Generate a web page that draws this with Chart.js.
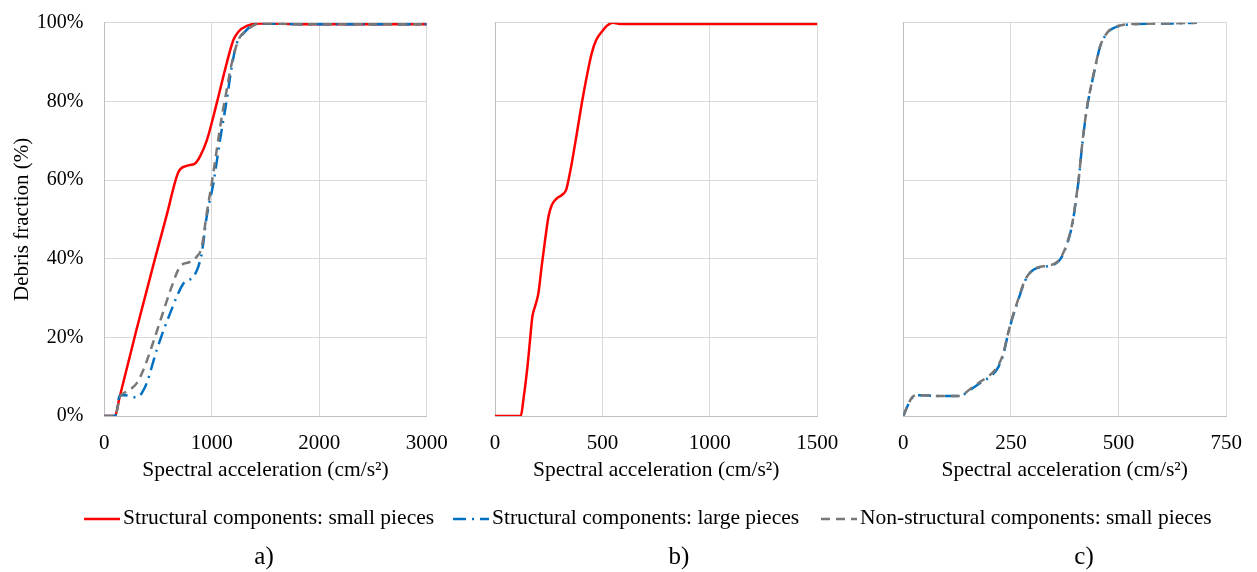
<!DOCTYPE html>
<html>
<head>
<meta charset="utf-8">
<script src="https://cdn.jsdelivr.net/npm/chart.js@4/dist/chart.umd.min.js"></script>
<style>
  body { margin: 0; background: #fff; }
  #wrap { position: relative; width: 1257px; height: 572px; font-family: "Liberation Serif", "Times New Roman", serif; color: #000; }
  #wrap canvas { position: absolute; left: 0; top: 0; }
  .lbl { position: absolute; top: 542px; font-size: 25px; transform: translateX(-50%); }
  #legend { position: absolute; top: 504px; left: 0; width: 1257px; height: 26px; font-size: 21.5px; }
  .item { position: absolute; top: 0; white-space: nowrap; line-height: 26px; }
  .item svg { vertical-align: middle; margin-right: 3px; }
</style>
</head>
<body>
<div id="wrap">
  <canvas id="chartA" width="1257" height="572"></canvas>
  <canvas id="chartB" width="1257" height="572"></canvas>
  <canvas id="chartC" width="1257" height="572"></canvas>
  <div id="legend"></div>
  <div class="lbl" style="left:264px">a)</div>
  <div class="lbl" style="left:679px">b)</div>
  <div class="lbl" style="left:1084px">c)</div>
</div>
<script>
// series labels
const seriesNames = [
  "Structural components: small pieces",
  "Structural components: large pieces",
  "Non-structural components: small pieces"
];

// y ticks (%)
const yTicks = [0, 20, 40, 60, 80, 100];

// x ticks per panel (cm/s2)
const xTicksA = [0, 1000, 2000, 3000];
const xTicksB = [0, 500, 1000, 1500];
const xTicksC = [0, 250, 500, 750];

// panel a
const aRedX = [0, 100, 140, 300, 472, 580, 689, 767, 844, 891, 953, 1046, 1139, 1201, 1248, 1326, 1450, 2000, 3000];
const aRedY = [0, 0, 4.5, 22, 40, 51, 62, 63.6, 64.2, 66, 70, 79.5, 89.7, 95.6, 97.7, 99.2, 99.8, 99.6, 99.6];

const aBlueX = [0, 100, 146, 193, 250, 301, 348, 394, 488, 612, 736, 829, 875, 907, 953, 1015, 1077, 1139, 1186, 1232, 1295, 1419, 2000, 3000];
const aBlueY = [0, 0, 5.3, 5.3, 5.0, 4.7, 5.8, 8.3, 16.8, 26.1, 33.7, 35.4, 38, 41.4, 50.7, 59.2, 70.2, 80.3, 88.8, 94.7, 97.3, 99.8, 99.6, 99.6];

const aGrayX = [0, 100, 146, 208, 301, 363, 441, 534, 627, 705, 798, 860, 907, 953, 1000, 1046, 1093, 1139, 1186, 1248, 1326, 1450, 2000, 3000];
const aGrayY = [0, 0, 4.9, 6.2, 8.3, 11.7, 17.6, 25.3, 32.9, 38, 39.2, 40.5, 43, 51.5, 59.2, 67.6, 76.1, 82.9, 89.7, 95.6, 98.1, 99.8, 99.6, 99.6];

// panel b
const bRedX = [0, 120, 132, 151, 163, 174, 186, 202, 217, 233, 249, 264, 287, 311, 331, 342, 357, 381, 404, 427, 450, 471, 497, 520, 548, 582, 1000, 1500];
const bRedY = [0, 0, 4.1, 12.5, 19.3, 25.3, 27.8, 31.2, 38, 44.7, 50.7, 53.6, 55.3, 56.2, 57.5, 60, 64.2, 71.9, 79.5, 86.3, 92.2, 95.6, 97.7, 99.2, 100, 99.7, 99.7, 99.7];

// panel c
const cBlueX = [0, 11, 23, 34, 84, 130, 141, 160, 183, 206, 221, 233, 240, 252, 267, 282, 297, 313, 335, 354, 366, 381, 393, 400, 408, 415, 427, 436, 446, 457, 473, 488, 503, 541, 617, 682];
const cBlueY = [0, 2.8, 4.9, 5.3, 5.1, 5.1, 5.5, 7, 8.7, 10.4, 12.5, 15.9, 19.3, 24.4, 29.5, 34.2, 36.7, 37.7, 38.1, 38.8, 40.1, 43.9, 49, 54.1, 60.8, 68.5, 78.6, 83.7, 88.8, 93.9, 97.3, 98.6, 99.2, 99.7, 99.8, 100];

const cGrayX = [0, 11, 23, 34, 84, 130, 141, 160, 183, 206, 221, 233, 240, 252, 267, 282, 297, 313, 335, 354, 366, 381, 393, 400, 408, 415, 427, 436, 446, 457, 473, 488, 503, 541, 617, 682];
const cGrayY = [0, 2.9, 5.0, 5.3, 5.1, 5.1, 5.6, 7.3, 9.0, 10.9, 13.0, 16.2, 19.6, 24.6, 29.7, 34.4, 36.8, 37.8, 38.2, 38.9, 40.3, 44.2, 49.3, 54.4, 61.0, 68.7, 78.8, 83.9, 89.0, 94.0, 97.4, 98.7, 99.3, 99.7, 99.8, 100];

const RED = "#ff0000", BLUE = "#0070c0", GRAY = "#787878";
const FONT = "Liberation Serif";

function pts(xs, ys) {
  return xs.map((x, i) => ({ x: x, y: ys[i] }));
}

function redSet(xs, ys) {
  return { label: seriesNames[0], data: pts(xs, ys), borderColor: RED, borderWidth: 2.5, order: 3 };
}
function blueSet(xs, ys) {
  return { label: seriesNames[1], data: pts(xs, ys), borderColor: BLUE, borderWidth: 2.5, borderDash: [13, 6, 2, 6], order: 2 };
}
function graySet(xs, ys) {
  return { label: seriesNames[2], data: pts(xs, ys), borderColor: GRAY, borderWidth: 2.5, borderDash: [9, 6], order: 1 };
}

function makeChart(id, datasets, xTicks, plotLeft, plotRight, showY) {
  const step = xTicks[1] - xTicks[0];
  return new Chart(document.getElementById(id), {
    type: "line",
    data: { datasets: datasets },
    options: {
      responsive: false,
      animation: false,
      events: [],
      layout: {
        padding: { left: showY ? 0 : plotLeft, right: 1257 - plotRight, top: 22.7, bottom: 0 }
      },
      elements: {
        point: { radius: 0 },
        line: { cubicInterpolationMode: "monotone", fill: false }
      },
      plugins: { legend: { display: false }, tooltip: { enabled: false } },
      scales: {
        x: {
          type: "linear",
          min: xTicks[0],
          max: xTicks[xTicks.length - 1],
          afterFit: function (s) { s.height = 156; },
          ticks: {
            stepSize: step,
            padding: 15,
            color: "#000",
            font: { family: FONT, size: 21 },
            maxRotation: 0,
            callback: function (v) { return String(v); }
          },
          grid: { color: "#d9d9d9", lineWidth: 1, drawTicks: false },
          border: { color: "#bfbfbf", width: 1 },
          title: {
            display: true,
            text: "Spectral acceleration (cm/s²)",
            color: "#000",
            font: { family: FONT, size: 21.5 },
            padding: { top: 0, bottom: 89 }
          }
        },
        y: {
          min: yTicks[0],
          max: yTicks[yTicks.length - 1],
          afterFit: function (s) {
            s.width = showY ? plotLeft : 0;
            // tick padding would otherwise push the plot top down
            s.paddingTop = 0;
            s.paddingBottom = 0;
          },
          ticks: {
            display: showY,
            stepSize: yTicks[1] - yTicks[0],
            padding: 21,
            color: "#000",
            font: { family: FONT, size: 20 },
            callback: function (v) { return v + "%"; }
          },
          grid: { color: "#d9d9d9", lineWidth: 1, drawTicks: false },
          border: { color: "#bfbfbf", width: 1 },
          title: {
            display: showY,
            text: "Debris fraction (%)",
            color: "#000",
            font: { family: FONT, size: 21 },
            padding: { top: 10, bottom: 0 }
          }
        }
      }
    }
  });
}

makeChart("chartA", [redSet(aRedX, aRedY), blueSet(aBlueX, aBlueY), graySet(aGrayX, aGrayY)], xTicksA, 104.3, 426.7, true);
makeChart("chartB", [redSet(bRedX, bRedY)], xTicksB, 495, 817.3, false);
makeChart("chartC", [blueSet(cBlueX, cBlueY), graySet(cGrayX, cGrayY)], xTicksC, 903.3, 1230.7, false);

// shared legend
const legendItems = [
  { left: 84, color: RED, dash: "" },
  { left: 453, color: BLUE, dash: "13 6 2 6" },
  { left: 821, color: GRAY, dash: "9 6" }
];
const legend = document.getElementById("legend");
legendItems.forEach(function (it, i) {
  const div = document.createElement("div");
  div.className = "item";
  div.style.left = it.left + "px";
  div.innerHTML = '<svg width="36" height="6"><line x1="0" y1="3" x2="36" y2="3" stroke="' + it.color +
    '" stroke-width="2.5"' + (it.dash ? ' stroke-dasharray="' + it.dash + '"' : "") + '/></svg>' + seriesNames[i];
  legend.appendChild(div);
});
</script>
</body>
</html>
